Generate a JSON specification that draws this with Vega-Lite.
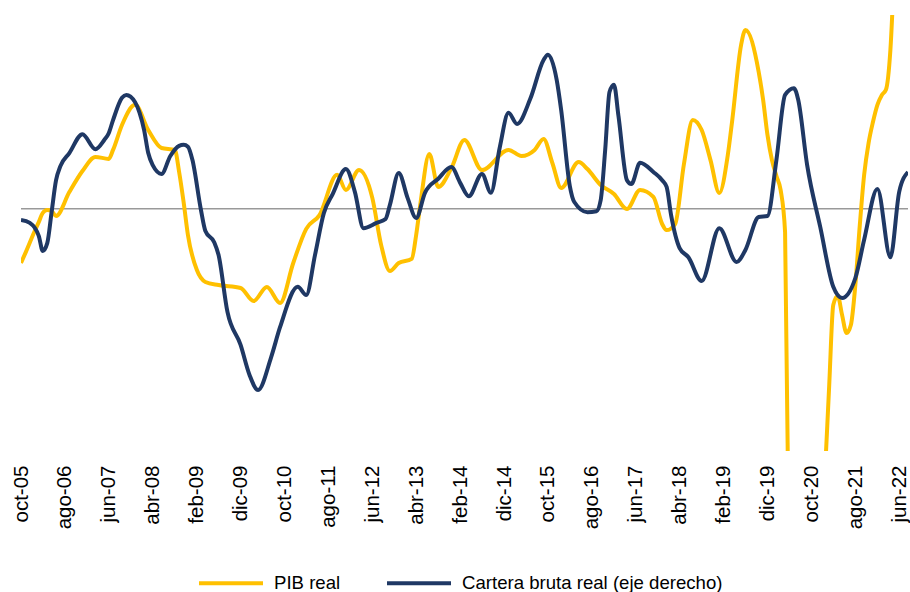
{
  "$schema": "https://vega.github.io/schema/vega-lite/v6.json",
  "width": 887,
  "height": 436,
  "autosize": {"type": "none"},
  "padding": {"left": 21, "top": 15, "right": 2, "bottom": 141},
  "background": "white",
  "config": {"view": {"stroke": null}, "font": "Liberation Sans"},
  "datasets": {
    "pib": [
      {"fecha": "2005-10-01", "valor": -2.24}, {"fecha": "2005-11-01", "valor": -1.82},
      {"fecha": "2006-01-01", "valor": -0.96}, {"fecha": "2006-02-01", "valor": -0.55},
      {"fecha": "2006-03-01", "valor": -0.17}, {"fecha": "2006-04-01", "valor": -0.05},
      {"fecha": "2006-05-01", "valor": -0.09}, {"fecha": "2006-06-01", "valor": -0.30},
      {"fecha": "2006-09-01", "valor": 0.69}, {"fecha": "2006-12-01", "valor": 1.56},
      {"fecha": "2007-03-01", "valor": 2.14}, {"fecha": "2007-06-01", "valor": 2.06},
      {"fecha": "2007-07-01", "valor": 2.43}, {"fecha": "2007-09-01", "valor": 3.46},
      {"fecha": "2007-12-01", "valor": 4.29}, {"fecha": "2008-03-01", "valor": 3.25},
      {"fecha": "2008-06-01", "valor": 2.51}, {"fecha": "2008-09-01", "valor": 2.43},
      {"fecha": "2008-10-01", "valor": 1.52}, {"fecha": "2008-11-01", "valor": 0.28},
      {"fecha": "2008-12-01", "valor": -1.08}, {"fecha": "2009-02-01", "valor": -2.53},
      {"fecha": "2009-04-01", "valor": -3.02}, {"fecha": "2009-07-01", "valor": -3.15},
      {"fecha": "2009-12-01", "valor": -3.27}, {"fecha": "2010-03-01", "valor": -3.81},
      {"fecha": "2010-06-01", "valor": -3.23}, {"fecha": "2010-09-01", "valor": -3.89},
      {"fecha": "2010-12-01", "valor": -2.24}, {"fecha": "2011-03-01", "valor": -0.83},
      {"fecha": "2011-06-01", "valor": -0.26}, {"fecha": "2011-10-01", "valor": 1.40},
      {"fecha": "2011-12-01", "valor": 0.78}, {"fecha": "2012-03-01", "valor": 1.60},
      {"fecha": "2012-06-01", "valor": 0.45}, {"fecha": "2012-08-01", "valor": -1.49},
      {"fecha": "2012-10-01", "valor": -2.57}, {"fecha": "2012-12-01", "valor": -2.24},
      {"fecha": "2013-03-01", "valor": -2.07}, {"fecha": "2013-04-01", "valor": -1.08},
      {"fecha": "2013-05-01", "valor": 0.24}, {"fecha": "2013-07-01", "valor": 2.26},
      {"fecha": "2013-09-01", "valor": 0.90}, {"fecha": "2013-12-01", "valor": 1.68},
      {"fecha": "2014-03-01", "valor": 2.84}, {"fecha": "2014-07-01", "valor": 1.60},
      {"fecha": "2015-01-01", "valor": 2.43}, {"fecha": "2015-04-01", "valor": 2.18},
      {"fecha": "2015-07-01", "valor": 2.43}, {"fecha": "2015-09-01", "valor": 2.88},
      {"fecha": "2015-11-01", "valor": 1.89}, {"fecha": "2016-01-01", "valor": 0.86},
      {"fecha": "2016-05-01", "valor": 1.93}, {"fecha": "2016-07-01", "valor": 1.64},
      {"fecha": "2016-10-01", "valor": 0.98}, {"fecha": "2017-01-01", "valor": 0.61},
      {"fecha": "2017-04-01", "valor": -0.01}, {"fecha": "2017-07-01", "valor": 0.78},
      {"fecha": "2017-10-01", "valor": 0.49}, {"fecha": "2017-12-01", "valor": -0.63},
      {"fecha": "2018-01-01", "valor": -0.88}, {"fecha": "2018-03-01", "valor": -0.63},
      {"fecha": "2018-05-01", "valor": 1.85}, {"fecha": "2018-07-01", "valor": 3.67},
      {"fecha": "2018-09-01", "valor": 3.25}, {"fecha": "2018-11-01", "valor": 2.01},
      {"fecha": "2019-01-01", "valor": 0.65}, {"fecha": "2019-03-01", "valor": 2.22},
      {"fecha": "2019-04-01", "valor": 3.67}, {"fecha": "2019-06-01", "valor": 6.76},
      {"fecha": "2019-07-01", "valor": 7.38}, {"fecha": "2019-10-01", "valor": 5.65},
      {"fecha": "2019-11-01", "valor": 4.49}, {"fecha": "2019-12-01", "valor": 3.05},
      {"fecha": "2020-01-01", "valor": 2.01}, {"fecha": "2020-02-01", "valor": 1.35},
      {"fecha": "2020-03-01", "valor": 0.78}, {"fecha": "2020-04-01", "valor": -0.96},
      {"fecha": "2020-05-01", "valor": -16.98}, {"fecha": "2020-06-01", "valor": -25.24},
      {"fecha": "2020-07-01", "valor": -27.71}, {"fecha": "2020-08-01", "valor": -27.71},
      {"fecha": "2020-09-01", "valor": -25.65}, {"fecha": "2020-10-01", "valor": -21.93},
      {"fecha": "2020-11-01", "valor": -18.22}, {"fecha": "2020-12-01", "valor": -14.50},
      {"fecha": "2021-01-01", "valor": -11.11}, {"fecha": "2021-02-01", "valor": -7.27},
      {"fecha": "2021-03-01", "valor": -3.97}, {"fecha": "2021-04-01", "valor": -3.60},
      {"fecha": "2021-05-01", "valor": -4.38}, {"fecha": "2021-06-01", "valor": -5.13},
      {"fecha": "2021-07-01", "valor": -4.80}, {"fecha": "2021-08-01", "valor": -3.15},
      {"fecha": "2021-09-01", "valor": -0.67}, {"fecha": "2021-10-01", "valor": 1.40},
      {"fecha": "2021-11-01", "valor": 2.72}, {"fecha": "2021-12-01", "valor": 3.58},
      {"fecha": "2022-01-01", "valor": 4.29}, {"fecha": "2022-02-01", "valor": 4.70},
      {"fecha": "2022-03-01", "valor": 4.91}, {"fecha": "2022-04-01", "valor": 6.56},
      {"fecha": "2022-05-01", "valor": 10.27}, {"fecha": "2022-06-01", "valor": 13.58}
    ],
    "cartera": [
      {"fecha": "2005-10-01", "valor": -0.23}, {"fecha": "2005-12-01", "valor": -0.29},
      {"fecha": "2006-02-01", "valor": -0.56}, {"fecha": "2006-03-01", "valor": -0.87},
      {"fecha": "2006-04-01", "valor": -0.71}, {"fecha": "2006-05-01", "valor": -0.07},
      {"fecha": "2006-06-01", "valor": 0.59}, {"fecha": "2006-07-01", "valor": 0.88},
      {"fecha": "2006-09-01", "valor": 1.15}, {"fecha": "2006-12-01", "valor": 1.54},
      {"fecha": "2007-03-01", "valor": 1.23}, {"fecha": "2007-05-01", "valor": 1.42},
      {"fecha": "2007-06-01", "valor": 1.56}, {"fecha": "2007-07-01", "valor": 1.83},
      {"fecha": "2007-09-01", "valor": 2.29}, {"fecha": "2007-10-01", "valor": 2.35},
      {"fecha": "2007-12-01", "valor": 2.20}, {"fecha": "2008-01-01", "valor": 1.98},
      {"fecha": "2008-02-01", "valor": 1.63}, {"fecha": "2008-03-01", "valor": 1.15},
      {"fecha": "2008-04-01", "valor": 0.90}, {"fecha": "2008-06-01", "valor": 0.72},
      {"fecha": "2008-08-01", "valor": 1.09}, {"fecha": "2008-10-01", "valor": 1.30},
      {"fecha": "2008-11-01", "valor": 1.32}, {"fecha": "2008-12-01", "valor": 1.28},
      {"fecha": "2009-01-01", "valor": 1.01}, {"fecha": "2009-03-01", "valor": -0.02},
      {"fecha": "2009-04-01", "valor": -0.46}, {"fecha": "2009-06-01", "valor": -0.69},
      {"fecha": "2009-07-01", "valor": -0.95}, {"fecha": "2009-09-01", "valor": -2.13},
      {"fecha": "2009-12-01", "valor": -2.81}, {"fecha": "2010-02-01", "valor": -3.43},
      {"fecha": "2010-04-01", "valor": -3.74}, {"fecha": "2010-07-01", "valor": -3.06},
      {"fecha": "2010-09-01", "valor": -2.44}, {"fecha": "2011-01-01", "valor": -1.61},
      {"fecha": "2011-03-01", "valor": -1.78}, {"fecha": "2011-05-01", "valor": -0.95},
      {"fecha": "2011-07-01", "valor": -0.09}, {"fecha": "2011-09-01", "valor": 0.31},
      {"fecha": "2011-12-01", "valor": 0.82}, {"fecha": "2012-02-01", "valor": 0.35},
      {"fecha": "2012-04-01", "valor": -0.40}, {"fecha": "2012-07-01", "valor": -0.29},
      {"fecha": "2012-09-01", "valor": -0.21}, {"fecha": "2012-10-01", "valor": 0.08},
      {"fecha": "2012-12-01", "valor": 0.74}, {"fecha": "2013-02-01", "valor": 0.22},
      {"fecha": "2013-04-01", "valor": -0.19}, {"fecha": "2013-06-01", "valor": 0.33},
      {"fecha": "2013-09-01", "valor": 0.62}, {"fecha": "2013-12-01", "valor": 0.86},
      {"fecha": "2014-02-01", "valor": 0.53}, {"fecha": "2014-04-01", "valor": 0.26},
      {"fecha": "2014-07-01", "valor": 0.72}, {"fecha": "2014-09-01", "valor": 0.33},
      {"fecha": "2014-11-01", "valor": 1.26}, {"fecha": "2015-01-01", "valor": 1.98},
      {"fecha": "2015-03-01", "valor": 1.75}, {"fecha": "2015-06-01", "valor": 2.27},
      {"fecha": "2015-09-01", "valor": 3.07}, {"fecha": "2015-10-01", "valor": 3.18},
      {"fecha": "2015-12-01", "valor": 2.66}, {"fecha": "2016-01-01", "valor": 2.04},
      {"fecha": "2016-03-01", "valor": 0.47}, {"fecha": "2016-04-01", "valor": 0.14},
      {"fecha": "2016-07-01", "valor": -0.07}, {"fecha": "2016-09-01", "valor": -0.05},
      {"fecha": "2016-10-01", "valor": 0.18}, {"fecha": "2016-11-01", "valor": 1.21},
      {"fecha": "2016-12-01", "valor": 2.41}, {"fecha": "2017-01-01", "valor": 2.56},
      {"fecha": "2017-02-01", "valor": 1.92}, {"fecha": "2017-04-01", "valor": 0.59},
      {"fecha": "2017-05-01", "valor": 0.51}, {"fecha": "2017-07-01", "valor": 0.95},
      {"fecha": "2017-10-01", "valor": 0.76}, {"fecha": "2017-12-01", "valor": 0.59},
      {"fecha": "2018-01-01", "valor": 0.45}, {"fecha": "2018-02-01", "valor": -0.13},
      {"fecha": "2018-04-01", "valor": -0.81}, {"fecha": "2018-06-01", "valor": -1.00},
      {"fecha": "2018-09-01", "valor": -1.49}, {"fecha": "2019-01-01", "valor": -0.40},
      {"fecha": "2019-05-01", "valor": -1.10}, {"fecha": "2019-07-01", "valor": -0.85},
      {"fecha": "2019-10-01", "valor": -0.17}, {"fecha": "2019-12-01", "valor": -0.15},
      {"fecha": "2020-02-01", "valor": 1.01}, {"fecha": "2020-04-01", "valor": 2.35},
      {"fecha": "2020-06-01", "valor": 2.49}, {"fecha": "2020-07-01", "valor": 2.25},
      {"fecha": "2020-09-01", "valor": 0.90}, {"fecha": "2020-12-01", "valor": -0.38},
      {"fecha": "2021-03-01", "valor": -1.61}, {"fecha": "2021-05-01", "valor": -1.84},
      {"fecha": "2021-08-01", "valor": -1.43}, {"fecha": "2021-10-01", "valor": -0.64},
      {"fecha": "2022-01-01", "valor": 0.41}, {"fecha": "2022-04-01", "valor": -1.00},
      {"fecha": "2022-06-01", "valor": 0.35}, {"fecha": "2022-08-01", "valor": 0.76}
    ]
  },
  "layer": [
    {
      "data": {"values": [{}]},
      "mark": {"type": "rule", "color": "#999999", "strokeWidth": 1.5},
      "encoding": {
        "y": {"datum": 0, "type": "quantitative", "scale": {"domain": [-10, 8]}, "axis": null}
      }
    },
    {
      "data": {"name": "pib"},
      "mark": {"type": "line", "interpolate": "monotone", "strokeWidth": 4, "clip": true},
      "encoding": {
        "x": {
          "field": "fecha",
          "type": "temporal",
          "scale": {
            "type": "utc",
            "domain": [
              {"year": 2005, "month": 10, "date": 1, "utc": true},
              {"year": 2022, "month": 8, "date": 1, "utc": true}
            ]
          },
          "axis": {
            "title": null,
            "domain": false,
            "ticks": false,
            "grid": false,
            "labelAngle": -90,
            "labelPadding": 14,
            "labelFontSize": 20.5,
            "labelFont": "Liberation Sans",
            "labelColor": "#000000",
            "labelFlush": false,
            "labelOverlap": false,
            "labelBound": false,
            "values": [
              {"year": 2005, "month": 10, "date": 1, "utc": true},
              {"year": 2006, "month": 8, "date": 1, "utc": true},
              {"year": 2007, "month": 6, "date": 1, "utc": true},
              {"year": 2008, "month": 4, "date": 1, "utc": true},
              {"year": 2009, "month": 2, "date": 1, "utc": true},
              {"year": 2009, "month": 12, "date": 1, "utc": true},
              {"year": 2010, "month": 10, "date": 1, "utc": true},
              {"year": 2011, "month": 8, "date": 1, "utc": true},
              {"year": 2012, "month": 6, "date": 1, "utc": true},
              {"year": 2013, "month": 4, "date": 1, "utc": true},
              {"year": 2014, "month": 2, "date": 1, "utc": true},
              {"year": 2014, "month": 12, "date": 1, "utc": true},
              {"year": 2015, "month": 10, "date": 1, "utc": true},
              {"year": 2016, "month": 8, "date": 1, "utc": true},
              {"year": 2017, "month": 6, "date": 1, "utc": true},
              {"year": 2018, "month": 4, "date": 1, "utc": true},
              {"year": 2019, "month": 2, "date": 1, "utc": true},
              {"year": 2019, "month": 12, "date": 1, "utc": true},
              {"year": 2020, "month": 10, "date": 1, "utc": true},
              {"year": 2021, "month": 8, "date": 1, "utc": true},
              {"year": 2022, "month": 6, "date": 1, "utc": true}
            ],
            "labelExpr": "['ene','feb','mar','abr','may','jun','jul','ago','sep','oct','nov','dic'][utcmonth(datum.value)] + '-' + utcFormat(datum.value, '%y')"
          }
        },
        "y": {"field": "valor", "type": "quantitative", "scale": {"domain": [-10, 8]}, "axis": null},
        "color": {
          "datum": "PIB real",
          "type": "nominal",
          "scale": {
            "domain": ["PIB real", "Cartera bruta real (eje derecho)"],
            "range": ["#FFC000", "#1F3864"]
          },
          "legend": {
            "orient": "none",
            "legendX": 176,
            "legendY": 534,
            "direction": "horizontal",
            "title": null,
            "symbolType": "stroke",
            "symbolSize": 4096,
            "symbolStrokeWidth": 4,
            "labelFont": "Liberation Sans",
            "labelFontSize": 18.6,
            "labelColor": "#000000",
            "labelLimit": 0,
            "labelOffset": 9,
            "columnPadding": 38
          }
        }
      }
    },
    {
      "data": {"name": "cartera"},
      "mark": {"type": "line", "interpolate": "monotone", "strokeWidth": 4, "clip": true},
      "encoding": {
        "x": {"field": "fecha", "type": "temporal"},
        "y": {"field": "valor", "type": "quantitative", "scale": {"domain": [-5, 4]}, "axis": null},
        "color": {"datum": "Cartera bruta real (eje derecho)", "type": "nominal"}
      }
    }
  ],
  "resolve": {"scale": {"y": "independent"}}
}
